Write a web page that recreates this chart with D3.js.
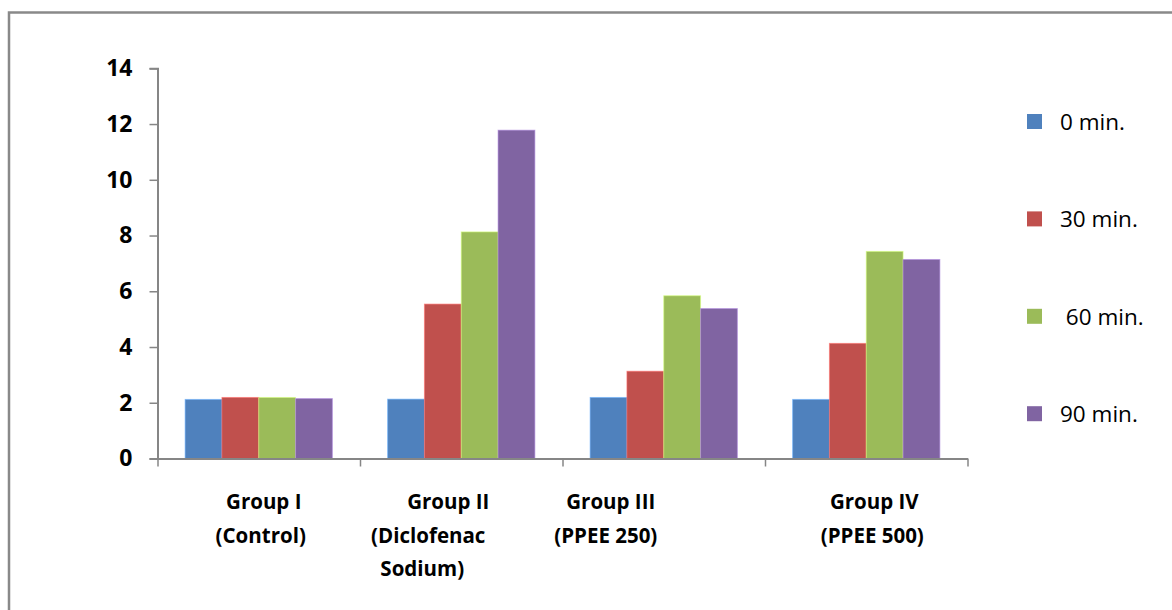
<!DOCTYPE html>
<html>
<head>
<meta charset="utf-8">
<script src="https://cdn.jsdelivr.net/npm/d3@7"></script>
<style>
  html, body { margin: 0; padding: 0; background: #fff; }
  svg { display: block; font-family: "Open Sans", "Noto Sans", sans-serif; }
</style>
</head>
<body>
<svg id="chart" width="1172" height="610"></svg>
<script>
// Paw oedema readings per treatment group at each time point
const groups = ["Group I", "Group II", "Group III", "Group IV"];
const groupLabelLines = [
  ["Group I", "(Control)"],
  ["Group II", "(Diclofenac", "Sodium)"],
  ["Group III", "(PPEE 250)"],
  ["Group IV", "(PPEE 500)"]
];
const seriesNames = ["0 min.", "30 min.", "60 min.", "90 min."];
const legendLabels = ["0 min.", "30 min.", " 60 min.", "90 min."];
const values0 = [2.12, 2.13, 2.19, 2.12];
const values30 = [2.19, 5.54, 3.13, 4.13];
const values60 = [2.19, 8.13, 5.84, 7.43];
const values90 = [2.15, 11.78, 5.38, 7.14];
const yTicks = [0, 2, 4, 6, 8, 10, 12, 14];

const seriesValues = [values0, values30, values60, values90];
const colors = ["#4F81BD", "#C0504D", "#9BBB59", "#8064A2"];

// Horizontal nudges for the wrapped category label lines
const labelLineShift = [
  [5, 2],
  [-13, -33, -39],
  [-53, -58],
  [8, 6]
];

const svg = d3.select("#chart");
const axisColor = "#868686";

// Outer frame (top and left edges)
svg.append("path")
  .attr("d", "M9,610 L9,12.5 L1172,12.5")
  .attr("fill", "none")
  .attr("stroke", "#898989")
  .attr("stroke-width", 2.5);

const plot = { left: 157.5, right: 967.5, top: 68.3, bottom: 458.5 };

const y = d3.scaleLinear().domain([0, 14]).range([plot.bottom, plot.top]);
const x0 = d3.scaleBand().domain(groups).range([plot.left, plot.right]).padding(0);
const x1 = d3.scaleBand().domain(seriesNames).range([0, x0.bandwidth()])
  .paddingInner(0).paddingOuter(0.75);

// Bars
const rows = groups.map((g, gi) => ({
  group: g,
  bars: seriesNames.map((s, si) => ({ series: s, si, value: seriesValues[si][gi] }))
}));

const gGroups = svg.append("g").selectAll("g")
  .data(rows)
  .join("g")
  .attr("transform", d => `translate(${x0(d.group)},0)`);

gGroups.selectAll("rect")
  .data(d => d.bars)
  .join("rect")
  .attr("x", d => x1(d.series))
  .attr("y", d => y(d.value))
  .attr("width", x1.bandwidth())
  .attr("height", d => y(0) - y(d.value))
  .attr("fill", d => colors[d.si])
  .attr("stroke", d => d3.color(colors[d.si]).brighter(0.9))
  .attr("stroke-opacity", 0.6)
  .attr("stroke-width", 1);

// Y axis
const yAxis = svg.append("g")
  .attr("transform", `translate(${plot.left},0)`)
  .call(d3.axisLeft(y).tickValues(yTicks).tickSize(8).tickPadding(17).tickFormat(d3.format("d")));
yAxis.select(".domain").attr("stroke", axisColor).attr("stroke-width", 2);
yAxis.selectAll(".tick line").attr("stroke", axisColor).attr("stroke-width", 1.5);
yAxis.selectAll(".tick text")
  .attr("fill", "#000")
  .attr("font-size", 23)
  .attr("font-weight", "bold")
  .attr("font-family", "'Open Sans', sans-serif");

// X axis with tick marks on the category boundaries
const xb = d3.scaleLinear().domain([0, groups.length]).range([plot.left, plot.right]);
const xAxis = svg.append("g")
  .attr("transform", `translate(0,${plot.bottom})`)
  .call(d3.axisBottom(xb).tickValues(d3.range(groups.length + 1)).tickSize(8).tickSizeOuter(0).tickFormat(""));
xAxis.select(".domain").attr("stroke", axisColor).attr("stroke-width", 2);
xAxis.selectAll(".tick line").attr("stroke", axisColor).attr("stroke-width", 1.5);

// Category labels
const lineBaselines = [509, 543, 576];
const catLabels = svg.append("g")
  .attr("font-size", 20.5)
  .attr("font-weight", "bold")
  .attr("fill", "#000")
  .attr("text-anchor", "middle");
groupLabelLines.forEach((lines, gi) => {
  const cx = x0(groups[gi]) + x0.bandwidth() / 2;
  lines.forEach((line, li) => {
    catLabels.append("text")
      .attr("x", cx + labelLineShift[gi][li])
      .attr("y", lineBaselines[li])
      .text(line);
  });
});

// Legend
const legend = svg.append("g").attr("transform", "translate(1027,114)");
const legendStep = 97.4;
const items = legend.selectAll("g")
  .data(seriesNames)
  .join("g")
  .attr("transform", (d, i) => `translate(0,${i * legendStep})`);
items.append("rect")
  .attr("width", 15).attr("height", 15)
  .attr("fill", (d, i) => colors[i]);
items.append("text")
  .attr("x", 33)
  .attr("y", 16)
  .attr("font-size", 22.5)
  .attr("fill", "#000")
  .style("white-space", "pre")
  .text((d, i) => legendLabels[i]);
</script>
</body>
</html>
